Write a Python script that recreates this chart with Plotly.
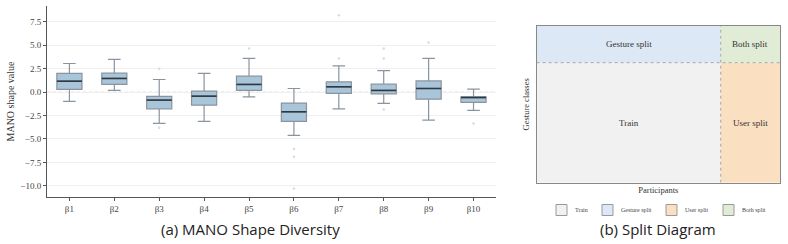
import plotly.graph_objects as go

# ---------------- data ----------------
betas = ["β1", "β2", "β3", "β4", "β5", "β6", "β7", "β8", "β9", "β10"]
lower = [-0.99, 0.18, -3.34, -3.13, -0.50, -4.62, -1.78, -1.21, -2.99, -1.95]
q1 = [0.29, 0.82, -1.78, -1.39, 0.18, -3.13, -0.14, -0.18, -0.75, -1.10]
median = [1.17, 1.46, -0.85, -0.43, 0.82, -2.10, 0.57, 0.18, 0.39, -0.57]
q3 = [2.00, 2.03, -0.46, 0.10, 1.70, -1.17, 1.10, 0.85, 1.20, -0.50]
upper = [3.06, 3.49, 1.35, 2.00, 3.60, 0.39, 2.80, 2.30, 3.60, 0.32]
outlier_beta = [3, 3, 5, 6, 6, 6, 7, 7, 8, 8, 8, 9, 10]
outlier_val = [2.5, -3.8, 4.66, -6.08, -6.9, -10.3, 8.2, 3.6, 4.66, 3.6, -1.85, 5.3, -3.34]

yticks = [7.5, 5.0, 2.5, 0.0, -2.5, -5.0, -7.5, -10.0]
ytick_text = ["7.5", "5.0", "2.5", "0.0", "\u22122.5", "\u22125.0", "\u22127.5", "\u221210.0"]

# split diagram (fractions of participants / gesture classes)
participant_split = 0.756   # train participants share
class_split = 0.766         # train gesture classes share
split_names = ["Train", "Gesture split", "User split", "Both split"]
split_colors = ["#f1f1f1", "#dce8f6", "#fbdfc1", "#e1ecd6"]

# ---------------- figure ----------------
fig = go.Figure()
pos = list(range(len(betas)))
box_w = 0.56

fig.add_trace(go.Box(
    x=pos, q1=q1, median=median, q3=q3, lowerfence=lower, upperfence=upper,
    width=box_w, whiskerwidth=0.5, boxpoints=False,
    fillcolor="#a9c5da", line=dict(color="#8a949e", width=1.2),
    xaxis="x", yaxis="y", showlegend=False, hoverinfo="skip"))

mx, my = [], []
for p, m in zip(pos, median):
    mx += [p - box_w / 2, p + box_w / 2, None]
    my += [m, m, None]
fig.add_trace(go.Scatter(x=mx, y=my, mode="lines", line=dict(color="#2e3942", width=1.6),
                         xaxis="x", yaxis="y", showlegend=False, hoverinfo="skip"))

fig.add_trace(go.Scatter(x=[b - 1 for b in outlier_beta], y=outlier_val, mode="markers",
                         marker=dict(color="#dadada", size=2.5), xaxis="x", yaxis="y",
                         showlegend=False, hoverinfo="skip"))

# split diagram regions
regions = [
    (0, participant_split, 0, class_split),
    (0, participant_split, class_split, 1),
    (participant_split, 1, 0, class_split),
    (participant_split, 1, class_split, 1),
]
for (x0, x1, y0, y1), name, col in zip(regions, split_names, split_colors):
    fig.add_trace(go.Scatter(x=[x0, x1, x1, x0, x0], y=[y0, y0, y1, y1, y0], fill="toself",
                             fillcolor=col, mode="lines", line=dict(width=0),
                             xaxis="x2", yaxis="y2", showlegend=False, hoverinfo="skip"))
    fig.add_annotation(x=(x0 + x1) / 2, y=(y0 + y1) / 2, xref="x2", yref="y2", text=name,
                       showarrow=False, xanchor="center", yanchor="middle",
                       font=dict(family="Liberation Serif", size=9, color="#333"))

fig.add_trace(go.Scatter(x=[0, 1, None, participant_split, participant_split],
                         y=[class_split, class_split, None, 0, 1], mode="lines",
                         line=dict(color="#a8a8a8", width=1, dash="dot"),
                         xaxis="x2", yaxis="y2", showlegend=False, hoverinfo="skip"))

serif = "Liberation Serif"
fig.update_layout(
    width=788, height=244, margin=dict(l=0, r=0, t=0, b=0),
    paper_bgcolor="white", plot_bgcolor="white",
    xaxis=dict(domain=[0.0596, 0.6294], range=[-0.5, 9.5], tickvals=pos, ticktext=betas,
               anchor="y", showgrid=False, zeroline=False, showline=True, linecolor="#555",
               linewidth=1, ticks="outside", ticklen=3, tickcolor="#555",
               tickfont=dict(family=serif, size=9, color="#444")),
    yaxis=dict(domain=[0.1926, 0.9754], range=[-11.2, 9.2], tickvals=yticks, ticktext=ytick_text,
               anchor="x", showgrid=True, gridcolor="#efefef", gridwidth=1, zeroline=False,
               showline=True, linecolor="#555", linewidth=1,
               ticks="outside", ticklen=3, tickcolor="#555",
               tickfont=dict(family=serif, size=9, color="#444"),
               title=dict(text="MANO shape value", font=dict(family=serif, size=10, color="#333"),
                          standoff=3)),
    xaxis2=dict(domain=[0.681, 0.990], range=[0, 1], anchor="y2", showticklabels=False, ticks="",
                showgrid=False, zeroline=False, showline=True, mirror=True,
                linecolor="#888", linewidth=1,
                title=dict(text="Participants", font=dict(family=serif, size=8.5, color="#333"),
                           standoff=4)),
    yaxis2=dict(domain=[0.2512, 0.8934], range=[0, 1], anchor="x2", showticklabels=False, ticks="",
                showgrid=False, zeroline=False, showline=True, mirror=True,
                linecolor="#888", linewidth=1,
                title=dict(text="Gesture classes", font=dict(family=serif, size=8.5, color="#333"),
                           standoff=4)),
)

# dotted zero line
fig.add_shape(type="line", xref="x domain", yref="y", x0=0, x1=1, y0=0, y1=0,
              line=dict(color="#cfcfcf", width=1, dash="dot"), layer="below")

# custom legend for split diagram
legend_x = [556, 602, 666, 723]
for lx, name, col in zip(legend_x, split_names, split_colors):
    fig.add_shape(type="rect", xref="paper", yref="paper",
                  x0=lx / 788, x1=(lx + 11) / 788, y0=1 - 215.5 / 244, y1=1 - 204.5 / 244,
                  fillcolor=col, line=dict(color="#9a9a9a", width=1))
    fig.add_annotation(x=(lx + 17) / 788, y=1 - 210 / 244, xref="paper", yref="paper",
                       text=name, showarrow=False, xanchor="left", yanchor="middle",
                       font=dict(family=serif, size=6, color="#444"))

# captions
fig.add_annotation(x=250 / 788, y=1 - 229 / 244, xref="paper", yref="paper",
                   text="(a) MANO Shape Diversity", showarrow=False,
                   xanchor="center", yanchor="middle",
                   font=dict(family="Open Sans", size=15, color="#222"))
fig.add_annotation(x=658 / 788, y=1 - 229 / 244, xref="paper", yref="paper",
                   text="(b) Split Diagram", showarrow=False,
                   xanchor="center", yanchor="middle",
                   font=dict(family="Open Sans", size=15, color="#222"))

fig.write_html("out.html")
